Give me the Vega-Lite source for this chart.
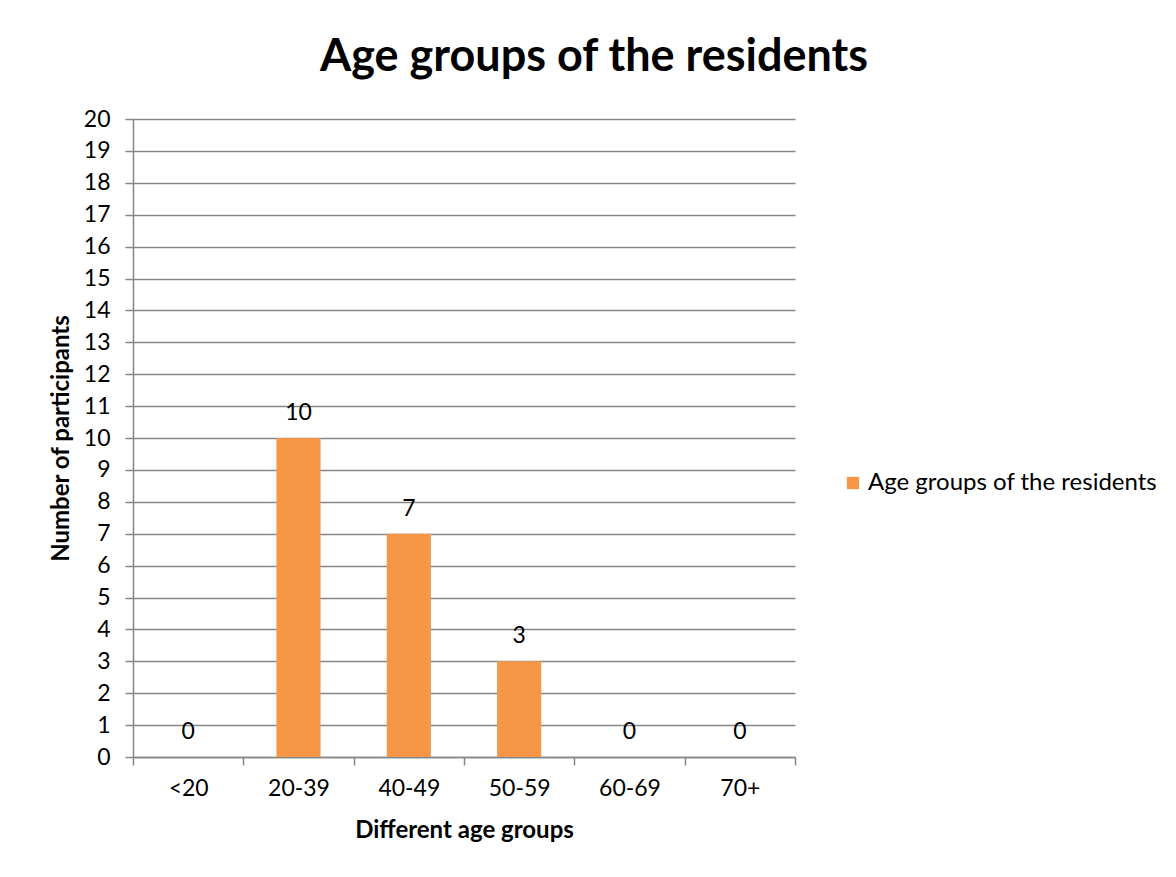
{
  "$schema": "https://vega.github.io/schema/vega-lite/v6.json",
  "autosize": {"type": "none"},
  "width": 662,
  "height": 638,
  "padding": {"left": 133, "top": 119, "right": 381, "bottom": 120},
  "background": "white",
  "title": {
    "text": "Age groups of the residents",
    "font": "Lato",
    "fontSize": 45,
    "fontWeight": "bold",
    "color": "#000000",
    "anchor": "middle",
    "dx": 130,
    "offset": 28
  },
  "data": {
    "values": [
      {"group": "<20", "count": 0, "series": "Age groups of the residents"},
      {"group": "20-39", "count": 10, "series": "Age groups of the residents"},
      {"group": "40-49", "count": 7, "series": "Age groups of the residents"},
      {"group": "50-59", "count": 3, "series": "Age groups of the residents"},
      {"group": "60-69", "count": 0, "series": "Age groups of the residents"},
      {"group": "70+", "count": 0, "series": "Age groups of the residents"}
    ]
  },
  "encoding": {
    "x": {
      "field": "group",
      "type": "nominal",
      "sort": null,
      "scale": {"paddingInner": 0, "paddingOuter": 0},
      "axis": {
        "title": "Different age groups",
        "labelAngle": 0,
        "tickBand": "extent",
        "grid": false,
        "domainColor": "#868686",
        "domainWidth": 1.5,
        "tickColor": "#868686",
        "tickWidth": 1.5,
        "tickSize": 8,
        "labelFont": "Lato",
        "labelFontSize": 23,
        "labelColor": "#000000",
        "labelPadding": 12,
        "titleFont": "Lato",
        "titleFontSize": 24,
        "titleFontWeight": "bold",
        "titleColor": "#000000",
        "titlePadding": 18
      }
    },
    "y": {
      "field": "count",
      "type": "quantitative",
      "scale": {"domain": [0, 20], "nice": false},
      "axis": {
        "title": "Number of participants",
        "values": [0,1,2,3,4,5,6,7,8,9,10,11,12,13,14,15,16,17,18,19,20],
        "grid": true,
        "gridColor": "#868686",
        "gridWidth": 1.5,
        "domainColor": "#868686",
        "domainWidth": 1.5,
        "tickColor": "#868686",
        "tickWidth": 1.5,
        "tickSize": 8,
        "labelFont": "Lato",
        "labelFontSize": 23,
        "labelColor": "#000000",
        "labelPadding": 15,
        "titleFont": "Lato",
        "titleFontSize": 24,
        "titleFontWeight": "bold",
        "titleColor": "#000000",
        "titlePadding": 10
      }
    }
  },
  "layer": [
    {
      "mark": {"type": "bar", "color": "#F79646", "width": {"band": 0.4}},
      "encoding": {
        "color": {
          "field": "series",
          "type": "nominal",
          "scale": {"range": ["#F79646"]},
          "legend": {
            "title": null,
            "orient": "none",
            "legendX": 708,
            "legendY": 352,
            "symbolType": "square",
            "symbolSize": 150,
            "symbolStrokeWidth": 0,
            "labelFont": "Lato",
            "labelFontSize": 24,
            "labelLimit": 600,
            "labelColor": "#000000",
            "labelOffset": 3
          }
        }
      }
    },
    {
      "mark": {"type": "text", "baseline": "middle", "dy": -25, "font": "Lato", "fontSize": 23, "color": "#000000"},
      "encoding": {"text": {"field": "count", "type": "quantitative"}}
    }
  ],
  "config": {"view": {"stroke": null}}
}
